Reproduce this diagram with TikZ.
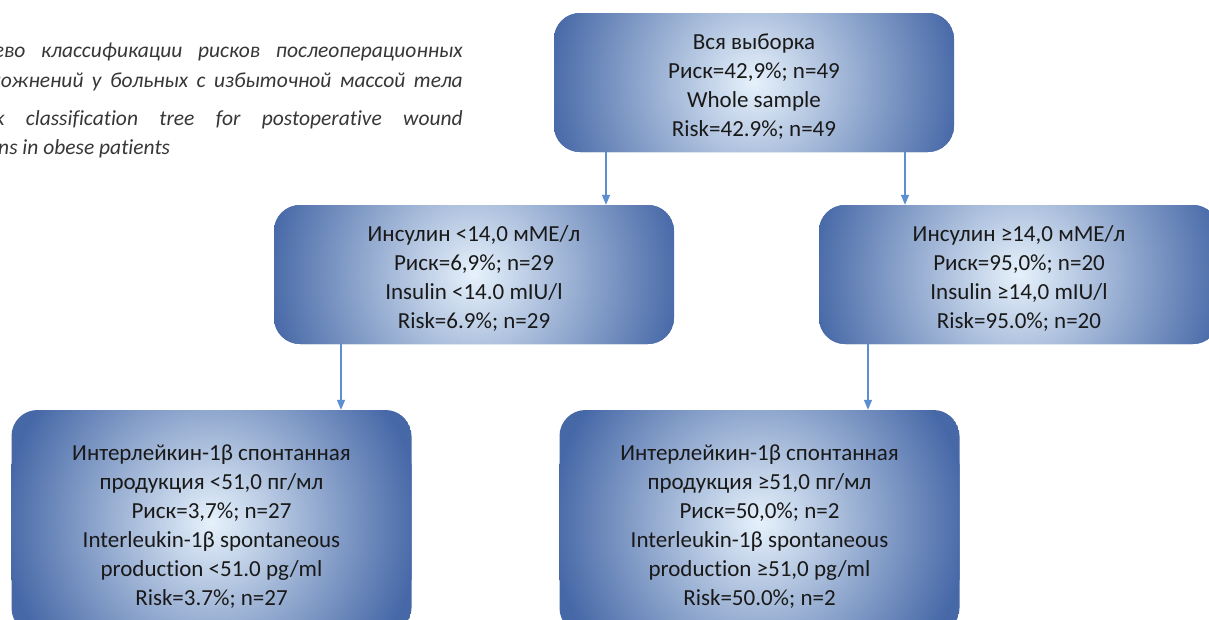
\documentclass[tikz,border=0pt]{standalone}
\usepackage{fontspec}
\setmainfont[Ligatures={NoCommon}]{Carlito}
\usetikzlibrary{arrows.meta}
\definecolor{boxout}{RGB}{70,104,167}
\definecolor{boxin}{RGB}{230,241,251}
\definecolor{arrowc}{RGB}{91,143,208}
\definecolor{capc}{RGB}{55,55,55}
\definecolor{txtc}{RGB}{25,25,25}
\tikzset{
  treebox/.style={rectangle, rounded corners=26pt,
    path picture={
      \fill[boxout] (path picture bounding box.south west) rectangle (path picture bounding box.north east);
      \shade[inner color=boxin, outer color=boxout] (path picture bounding box.center) circle (208pt);
    },
    minimum width=400pt, align=center, font=\fontsize{23}{29}\selectfont, text=txtc, inner sep=0pt},
  conn/.style={draw=arrowc, line width=1.2pt, -{Triangle[length=10pt,width=8pt]}},
  captxt/.style={font=\fontsize{21.5}{30}\selectfont\itshape, text=capc, inner sep=0pt}
}
\newcommand{\topstrut}{\rule{0pt}{24pt}}
\begin{document}
\begin{tikzpicture}[x=1pt,y=-1pt]
\useasboundingbox (0,0) rectangle (1209,619);
\clip (0,0) rectangle (1209,619);
\fill[white] (0,0) rectangle (1209,619);

% caption (cut at the left edge as in the picture)
\node[captxt, anchor=base east] (cap1) at (463,57) {\makebox[469pt][s]{ево классификации рисков послеоперационных}};
\node[captxt, anchor=base east] (cap2) at (463,87) {\makebox[473pt][s]{ложнений у больных с избыточной массой тела}};
\node[captxt, anchor=base east] (cap3) at (463,125) {\makebox[468pt][s]{k classification tree for postoperative wound}};
\node[captxt, anchor=base west] (cap4) at (-2,154) {ns in obese patients};

% boxes
\node[treebox, minimum height=139pt] (root) at (754,82.5)
  {\topstrut Вся выборка\\Риск=42,9\%; n=49\\Whole sample\\Risk=42.9\%; n=49};
\node[treebox, minimum height=139pt] (ml) at (474,274.5)
  {\topstrut Инсулин <14,0 мМЕ/л\\Риск=6,9\%; n=29\\Insulin <14.0 mIU/l\\Risk=6.9\%; n=29};
\node[treebox, minimum height=139pt] (mr) at (1019,274.5)
  {\topstrut Инсулин ≥14,0 мМЕ/л\\Риск=95,0\%; n=20\\Insulin ≥14,0 mIU/l\\Risk=95.0\%; n=20};
\node[treebox, minimum height=224pt] (bl) at (211.5,522)
  {\topstrut Интерлейкин-1β спонтанная\\продукция <51,0 пг/мл\\Риск=3,7\%; n=27\\Interleukin-1β spontaneous\\production <51.0 pg/ml\\Risk=3.7\%; n=27};
\node[treebox, minimum height=224pt] (br) at (759.5,522)
  {\topstrut Интерлейкин-1β спонтанная\\продукция ≥51,0 пг/мл\\Риск=50,0\%; n=2\\Interleukin-1β spontaneous\\production ≥51,0 pg/ml\\Risk=50.0\%; n=2};

% connectors
\draw[conn] ([xshift=-148pt]root.south) -- ([xshift=132pt]ml.north);
\draw[conn] ([xshift=151pt]root.south) -- ([xshift=-114pt]mr.north);
\draw[conn] ([xshift=-133pt]ml.south) -- ([xshift=129.5pt]bl.north);
\draw[conn] ([xshift=-151pt]mr.south) -- ([xshift=108.5pt]br.north);
\end{tikzpicture}
\end{document}
